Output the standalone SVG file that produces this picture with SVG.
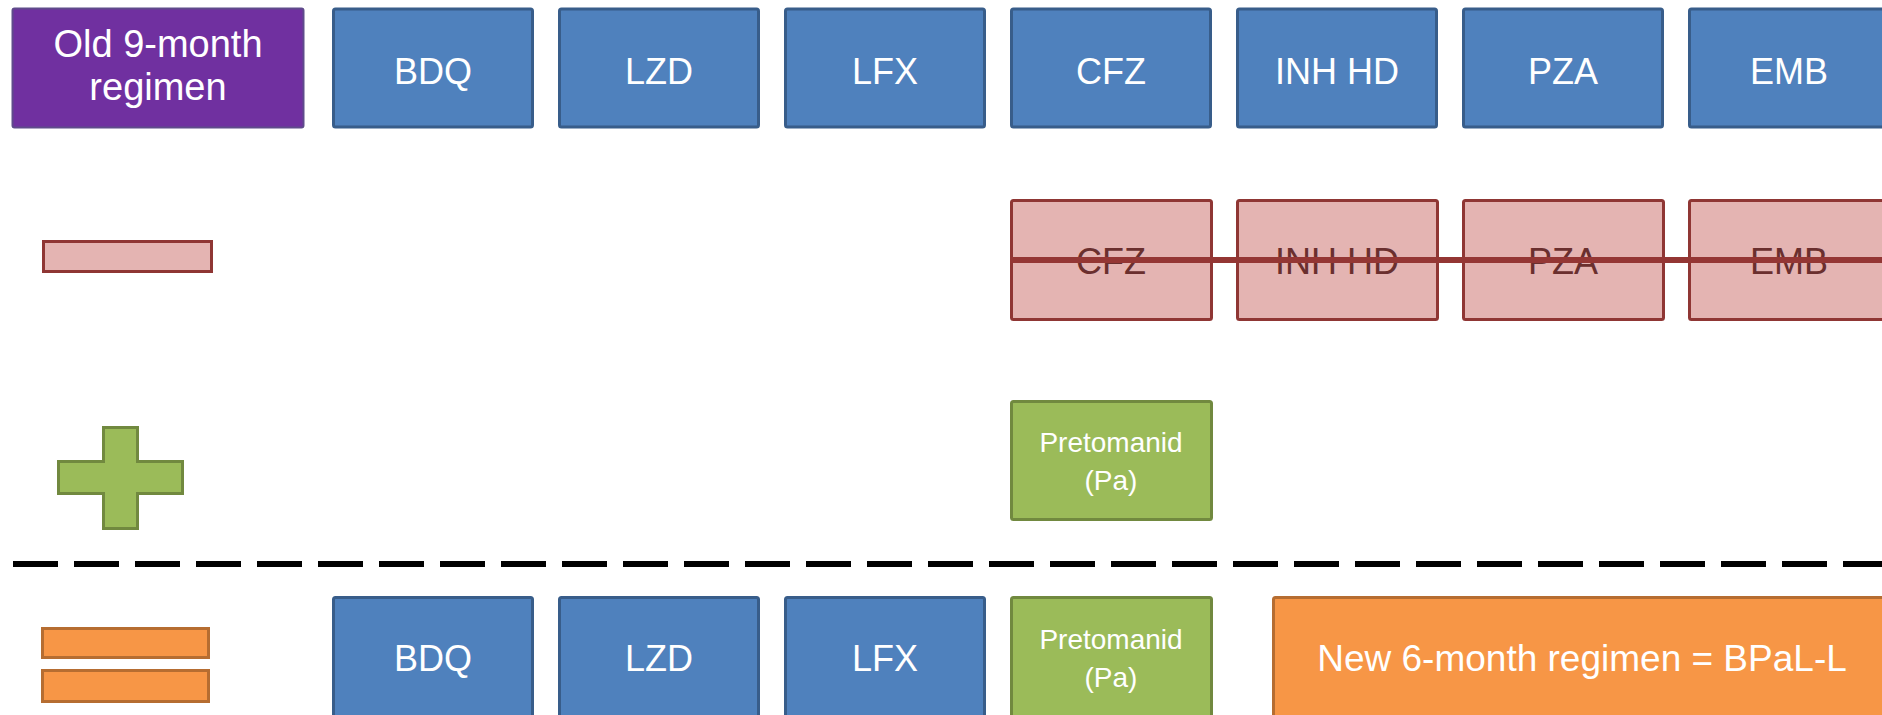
<svg xmlns="http://www.w3.org/2000/svg" width="1882" height="715" viewBox="0 0 1882 715">
  <defs>
    <style>
      .t { font-family: "Liberation Sans", Arial, sans-serif; fill: #ffffff; text-anchor: middle; }
      .big { font-size: 36px; }
      .small { font-size: 28px; }
      .blue { fill: #4F81BD; stroke: #385D8A; stroke-width: 3; }
      .purple { fill: #7030A0; stroke: #5F4B8B; stroke-width: 2; }
      .red { fill: #E4B4B2; stroke: #8F3634; stroke-width: 3; }
      .rt { font-family: "Liberation Sans", Arial, sans-serif; fill: #6A2F2E; text-anchor: middle; font-size: 36px; }
      .green { fill: #9BBB59; stroke: #71893F; stroke-width: 3; }
      .orange { fill: #F79646; stroke: #B66D31; stroke-width: 3; }
    </style>
    <filter id="shadow" x="-5%" y="-300%" width="110%" height="700%">
      <feGaussianBlur stdDeviation="2.5"/>
    </filter>
  </defs>
  <rect width="1882" height="715" fill="#ffffff"/>

  <!-- Row 1: old regimen -->
  <g id="old-regimen">
    <rect class="purple" x="12.5" y="8.5" width="291" height="119" rx="2"/>
    <text class="t" x="158" y="57" font-size="38">Old 9-month</text>
    <text class="t" x="158" y="100" font-size="38">regimen</text>
  </g>
  <g id="bdq1"><rect class="blue" x="333.5" y="9" width="199" height="118" rx="2"/><text class="t big" x="433" y="84">BDQ</text></g>
  <g id="lzd1"><rect class="blue" x="559.5" y="9" width="199" height="118" rx="2"/><text class="t big" x="659" y="84">LZD</text></g>
  <g id="lfx1"><rect class="blue" x="785.5" y="9" width="199" height="118" rx="2"/><text class="t big" x="885" y="84">LFX</text></g>
  <g id="cfz1"><rect class="blue" x="1011.5" y="9" width="199" height="118" rx="2"/><text class="t big" x="1111" y="84">CFZ</text></g>
  <g id="inh1"><rect class="blue" x="1237.5" y="9" width="199" height="118" rx="2"/><text class="t big" x="1337" y="84">INH HD</text></g>
  <g id="pza1"><rect class="blue" x="1463.5" y="9" width="199" height="118" rx="2"/><text class="t big" x="1563" y="84">PZA</text></g>
  <g id="emb1"><rect class="blue" x="1689.5" y="9" width="199" height="118" rx="2"/><text class="t big" x="1789" y="84">EMB</text></g>

  <!-- Row 2: removed -->
  <g id="minus"><rect class="red" x="43.5" y="241.5" width="168" height="30"/></g>
  <g id="cfz2"><rect class="red" x="1011.5" y="200.5" width="200" height="119" rx="2"/><text class="rt" x="1111" y="274">CFZ</text></g>
  <g id="inh2"><rect class="red" x="1237.5" y="200.5" width="200" height="119" rx="2"/><text class="rt" x="1337" y="274">INH HD</text></g>
  <g id="pza2"><rect class="red" x="1463.5" y="200.5" width="200" height="119" rx="2"/><text class="rt" x="1563" y="274">PZA</text></g>
  <g id="emb2"><rect class="red" x="1689.5" y="200.5" width="200" height="119" rx="2"/><text class="rt" x="1789" y="274">EMB</text></g>
  <g id="strike">
    <line x1="1012" y1="265" x2="1890" y2="265" stroke="#606060" stroke-width="6" opacity="0.55" filter="url(#shadow)"/>
    <line x1="1010" y1="260" x2="1890" y2="260" stroke="#943634" stroke-width="6"/>
  </g>

  <!-- Row 3: added -->
  <g id="plus">
    <polygon class="green" points="103.5,427.5 137.5,427.5 137.5,461.5 182.5,461.5 182.5,493.5 137.5,493.5 137.5,528.5 103.5,528.5 103.5,493.5 58.5,493.5 58.5,461.5 103.5,461.5"/>
  </g>
  <g id="pa1">
    <rect class="green" x="1011.5" y="401.5" width="200" height="118" rx="2"/>
    <text class="t small" x="1111" y="452">Pretomanid</text>
    <text class="t small" x="1111" y="490">(Pa)</text>
  </g>

  <!-- Divider -->
  <g id="connectors">
    <line x1="13" y1="564" x2="1882" y2="564" stroke="#000000" stroke-width="6" stroke-dasharray="45 16"/>
  </g>

  <!-- Row 4: result -->
  <g id="equals">
    <rect class="orange" x="42.5" y="628.5" width="166" height="29"/>
    <rect class="orange" x="42.5" y="670.5" width="166" height="31"/>
  </g>
  <g id="bdq2"><rect class="blue" x="333.5" y="597.5" width="199" height="125" rx="2"/><text class="t big" x="433" y="671">BDQ</text></g>
  <g id="lzd2"><rect class="blue" x="559.5" y="597.5" width="199" height="125" rx="2"/><text class="t big" x="659" y="671">LZD</text></g>
  <g id="lfx2"><rect class="blue" x="785.5" y="597.5" width="199" height="125" rx="2"/><text class="t big" x="885" y="671">LFX</text></g>
  <g id="pa2">
    <rect class="green" x="1011.5" y="597.5" width="200" height="125" rx="2"/>
    <text class="t small" x="1111" y="649">Pretomanid</text>
    <text class="t small" x="1111" y="687">(Pa)</text>
  </g>
  <g id="bpal-l">
    <rect class="orange" x="1273.5" y="597.5" width="620" height="125" rx="2"/>
    <text class="t" x="1582" y="671" font-size="37">New 6-month regimen = BPaL-L</text>
  </g>
</svg>
